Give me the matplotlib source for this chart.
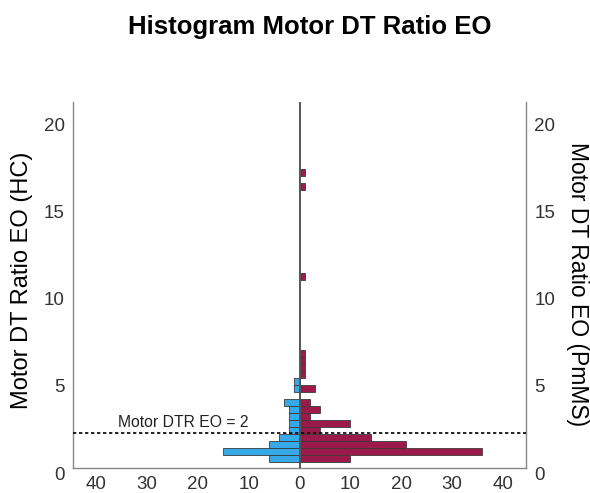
import matplotlib
matplotlib.use("Agg")
import matplotlib.pyplot as plt
import matplotlib.transforms as mtransforms

plt.rcParams['font.family'] = ['Liberation Sans', 'DejaVu Sans']

# histogram bins (lower edge), width 0.4
BIN_WIDTH = 0.4
hc_bins = [0.36, 0.76, 1.16, 1.56, 1.96, 2.36, 2.76, 3.16, 3.56, 4.36, 4.76]
hc_counts = [6, 15, 6, 4, 2, 2, 2, 2, 3, 1, 1]

pm_bins = [0.36, 0.76, 1.16, 1.56, 1.96, 2.36, 2.76, 3.16, 3.56, 4.36,
           5.16, 5.56, 5.96, 6.36, 10.76, 15.96, 16.76]
pm_counts = [10, 36, 21, 14, 4, 10, 2, 4, 2, 3, 1, 1, 1, 1, 1, 1, 1]

cutoff = 2
cutoff_label = "Motor DTR EO = 2"
x_ticks = [-40, -30, -20, -10, 0, 10, 20, 30, 40]
y_ticks = [0, 5, 10, 15, 20]

BLUE = '#38a9e8'
MAROON = '#9c1a4b'
EDGE = '#3a3a3a'

fig = plt.figure(figsize=(5.9, 4.93), dpi=100)
ax = fig.add_axes([73 / 590, 25 / 493, 453 / 590, 366 / 493])

ax.barh(hc_bins, [-c for c in hc_counts], height=BIN_WIDTH, align='edge',
        color=BLUE, edgecolor=EDGE, linewidth=0.6, zorder=2)
ax.barh(pm_bins, pm_counts, height=BIN_WIDTH, align='edge',
        color=MAROON, edgecolor=EDGE, linewidth=0.6, zorder=2)

ax.axvline(0, color='#555555', linewidth=1.4, zorder=3)
ax.axhline(cutoff, color='black', linewidth=1.2, linestyle=(0, (2, 1.6)), zorder=4)
ax.text(-35.8, cutoff + 0.38, cutoff_label, fontsize=11.3, color='#222222',
        ha='left', va='baseline')

ax.set_xlim(-44.6, 44.6)
ax.set_ylim(0, 21)
ax.set_xticks(x_ticks)
ax.set_xticklabels([str(abs(t)) for t in x_ticks])
ax.set_yticks(y_ticks)
ax.tick_params(axis='both', length=0, labelsize=13.5, labelcolor='#333333')
ax.tick_params(axis='x', pad=6)
ax.tick_params(axis='y', pad=6, labelleft=True, labelright=True)

for side in ['left', 'right', 'bottom']:
    ax.spines[side].set_color('#888888')
    ax.spines[side].set_linewidth(1.0)
ax.spines['top'].set_visible(False)

# SPSS puts the y labels a few pixels low
shift = mtransforms.ScaledTranslation(0, -0.05, fig.dpi_scale_trans)
for t in ax.yaxis.get_major_ticks():
    t.label1.set_transform(t.label1.get_transform() + shift)
    t.label2.set_transform(t.label2.get_transform() + shift)

fig.text(22 / 590, 1 - 280 / 493, "Motor DT Ratio EO (HC)", rotation=90,
         ha='center', va='center', fontsize=17)
fig.text(578 / 590, 1 - 284 / 493, "Motor DT Ratio EO (PmMS)", rotation=270,
         ha='center', va='center', fontsize=16.5)
fig.text(310 / 590, 1 - 27 / 493, "Histogram Motor DT Ratio EO",
         ha='center', va='center', fontsize=18.5, fontweight='bold')

fig.savefig("out.png", dpi=100)
